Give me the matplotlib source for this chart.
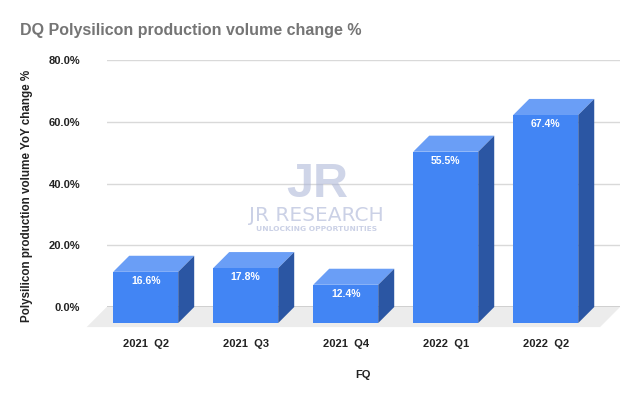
import numpy as np
import matplotlib.pyplot as plt
from matplotlib.patches import Polygon
from matplotlib.ticker import FuncFormatter

plt.rcParams['font.family'] = ['Liberation Sans', 'DejaVu Sans']

quarters = ['2021  Q2', '2021  Q3', '2021  Q4', '2022  Q1', '2022  Q2']
change = [16.6, 17.8, 12.4, 55.5, 67.4]
yticks = [0, 20, 40, 60, 80]

# colours of the fake 3d boxes
FRONT = '#4285f4'
TOP = '#6a9ef6'
SIDE = '#2b56a3'
FLOOR = '#ececec'

# depth of the 3d effect (x in category units, y in %)
DX, DY = 0.16, 5.2
FDX, FDY = 0.20, 6.5
W = 0.65

fig = plt.figure(figsize=(6.4, 3.96), dpi=100, facecolor='w')
ax = fig.add_axes([0.1667, 0.2247, 0.8021, 0.6237])
ax.set_xlim(-0.39, 4.743)
ax.set_ylim(0, 80)

x0, x1 = ax.get_xlim()
floor = Polygon([(x0, 0), (x1, 0), (x1 - FDX, -FDY), (x0 - FDX, -FDY)],
                closed=True, fc=FLOOR, ec='none', clip_on=False, zorder=1)
ax.add_patch(floor)

ax.yaxis.grid(True, color='#d9d9d9', lw=1, zorder=0)
ax.set_axisbelow(True)
ax.axhline(0, color='#333333', lw=1, zorder=2)

for i, v in enumerate(change):
    xl, xr = i - W / 2, i + W / 2
    yb, yt = -DY, v - DY
    top = Polygon([(xl, yt), (xr, yt), (xr + DX, v), (xl + DX, v)],
                  closed=True, fc=TOP, ec='none', clip_on=False, zorder=3)
    side = Polygon([(xr, yb), (xr + DX, 0), (xr + DX, v), (xr, yt)],
                   closed=True, fc=SIDE, ec='none', clip_on=False, zorder=3)
    front = Polygon([(xl, yb), (xr, yb), (xr, yt), (xl, yt)],
                    closed=True, fc=FRONT, ec='none', clip_on=False, zorder=4)
    ax.add_patch(top)
    ax.add_patch(side)
    ax.add_patch(front)
    ax.text(i, yt - 3.0, '%.1f%%' % v, color='w', fontsize=7.5,
            fontweight='bold', ha='center', va='center', zorder=5)

ax.set_yticks(yticks)
ax.yaxis.set_major_formatter(FuncFormatter(lambda y, p: '%.1f%%' % y))
ax.set_xticks(range(len(quarters)))
ax.set_xticklabels(quarters)
ax.tick_params(axis='y', length=0, pad=19, labelsize=8, labelcolor='#222222')
ax.tick_params(axis='x', length=0, pad=23, labelsize=8, labelcolor='#222222')
for lab in ax.get_xticklabels() + ax.get_yticklabels():
    lab.set_fontweight('bold')
for s in ax.spines.values():
    s.set_visible(False)

ax.set_xlabel('FQ', fontsize=8, fontweight='bold', color='#222222', labelpad=15)
fig.text(0.042, 0.505, 'Polysilicon production volume YoY change %', rotation=90,
         fontsize=8.4, fontweight='bold', color='#222222', ha='center', va='center')
fig.text(0.031, 0.924, 'DQ Polysilicon production volume change %', fontsize=11.5,
         fontweight='bold', color='#757575', ha='left', va='center')

# watermark
wm = '#a9b3d6'
fig.text(0.495, 0.503, 'JR', fontsize=35, color=wm, alpha=0.55, ha='center',
         va='baseline', fontweight='bold', zorder=10)
fig.text(0.495, 0.457, 'JR RESEARCH', fontsize=14.5, color=wm, alpha=0.6,
         ha='center', va='center', family='DejaVu Sans', zorder=10)
fig.text(0.495, 0.421, 'UNLOCKING OPPORTUNITIES', fontsize=5.4, color=wm,
         alpha=0.6, ha='center', va='center', family='DejaVu Sans',
         fontweight='bold', zorder=10)

plt.savefig('out.png', dpi=100, facecolor='w')
